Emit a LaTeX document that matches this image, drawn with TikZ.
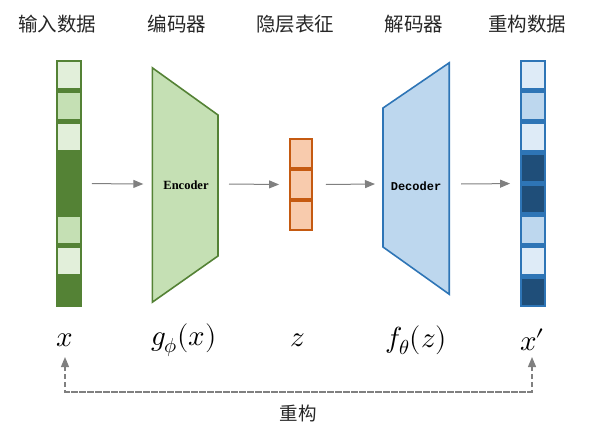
\documentclass[tikz,border=0pt]{standalone}
\usepackage{fontspec}
\usepackage{unicode-math}
\setmathfont{Latin Modern Math}
\newfontfamily\cjk{Noto Sans CJK SC}
\newfontfamily\serifb{Liberation Serif}
\newfontfamily\monob{Liberation Mono}
\usetikzlibrary{arrows.meta}
\definecolor{gL}{HTML}{E2EFDA}
\definecolor{gM}{HTML}{C5E0B4}
\definecolor{gD}{HTML}{548235}
\definecolor{bL}{HTML}{DEEBF7}
\definecolor{bM}{HTML}{BDD7EE}
\definecolor{bD}{HTML}{1F4E79}
\definecolor{bB}{HTML}{2E75B6}
\definecolor{oF}{HTML}{F8CBAD}
\definecolor{oB}{HTML}{C55A11}
\definecolor{arr}{HTML}{808080}
\begin{document}
\begin{tikzpicture}[x=1pt,y=-1pt,
  cell/.style={minimum width=23.5pt,minimum height=28.5pt,inner sep=0pt,line width=2.4pt},
  gcell/.style={cell,draw=gD},
  bcell/.style={cell,draw=bB},
  ocell/.style={cell,minimum width=21.5pt,draw=oB,fill=oF},
  flow/.style={draw=arr,line width=1pt,-{Triangle[length=10pt,width=8pt]}},
  rec/.style={draw=arr,line width=1.2pt,dashed,dash pattern=on 5pt off 3pt,-{Triangle[length=10pt,width=8pt]}},
  title/.style={font=\cjk\fontsize{19.5}{22}\selectfont,text=black!85},
  mlab/.style={font=\fontsize{29}{32}\selectfont}
]
\useasboundingbox (0,0) rectangle (591,441);
% input column
\foreach \i/\c in {1/gL,2/gM,3/gL,4/gD,5/gD,6/gM,7/gL,8/gD}{
  \node[gcell,fill=\c] (in\i) at (69,{60+30.9*(\i-0.5)}) {};
}
% output column
\foreach \i/\c in {1/bL,2/bM,3/bL,4/bD,5/bD,6/bM,7/bL,8/bD}{
  \node[bcell,fill=\c] (out\i) at (533,{60+30.9*(\i-0.5)}) {};
}
% latent
\foreach \i in {1,2,3}{
  \node[ocell] (z\i) at (301,{138+31*(\i-0.5)}) {};
}
% encoder
\node[minimum width=66pt,minimum height=234pt,inner sep=0pt] (enc) at (185.5,185) {};
\draw[fill=gM,draw=gD,line width=1.6pt] (enc.north west) -- (218,115) -- (218,256) -- (enc.south west) -- cycle;
\node[font=\serifb\bfseries\fontsize{12.5}{14}\selectfont] (enct) at (186,185) {Encoder};
% decoder
\node[minimum width=66pt,minimum height=231pt,inner sep=0pt] (dec) at (416,178.5) {};
\draw[fill=bM,draw=bB,line width=1.6pt] (383,108) -- (dec.north east) -- (dec.south east) -- (383,247) -- cycle;
\node[font=\monob\bfseries\fontsize{12}{14}\selectfont] (dect) at (416,186) {Decoder};
% flow arrows
\draw[flow] ([xshift=10pt]in4.south east) -- ([xshift=-9pt]enc.west |- 0,184);
\draw[flow] (229,184) -- ([xshift=-10pt]z2.west);
\draw[flow] ([xshift=13pt]z2.east) -- (375,184);
\draw[flow] (461,184) -- ([xshift=-10pt]out4.south west);
% titles
\node[title] (t1) at (57,24) {输入数据};
\node[title] (t2) at (177,24) {编码器};
\node[title] (t3) at (295,24) {隐层表征};
\node[title] (t4) at (414,24) {解码器};
\node[title] (t5) at (527,24) {重构数据};
% math labels
\node[mlab] (lx) at (65,340) {$x$};
\node[mlab] (lg) at (184,340) {$g_\phi(x)$};
\node[mlab] (lz) at (298,340) {$z$};
\node[mlab] (lf) at (416,340) {$f_\theta(z)$};
\node[mlab] (lxp) at (532,340) {$x\mkern-1mu\prime$};
% reconstruction
\coordinate (rl) at (65,392);
\coordinate (rr) at (532,392);
\draw[rec] (rr) -- (rl) -- (lx.south |- 0,357);
\draw[rec] (rl) -- (rr) -- (lxp.south |- 0,357);
\node[font=\cjk\fontsize{18.5}{21}\selectfont,text=black!85] (rt) at (298,413) {重构};
\end{tikzpicture}
\end{document}
